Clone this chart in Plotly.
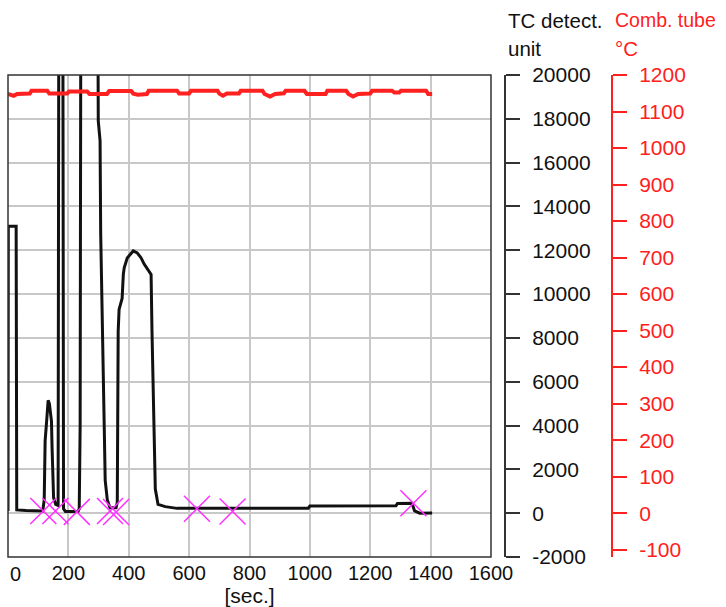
import plotly.graph_objects as go

# TC detector signal (seconds, detector units)
tc_time = [0, 1, 27, 29, 60, 100, 115, 120, 123, 128, 133, 137, 140, 144,
           146, 148, 151, 158, 166, 169, 181, 184, 190, 232, 236, 239, 242,
           296, 299, 305, 307, 311, 316, 319, 322, 329, 338, 358, 362, 363,
           365, 368, 378, 382, 385, 395, 415, 428, 441, 451, 474, 477, 481,
           488, 497, 521, 560, 760, 995, 1000, 1285, 1290, 1338, 1347, 1364,
           1405]
tc_value = [100, 13100, 13100, 150, 120, 100, 100, 600, 3300, 4200, 5150,
            5000, 4700, 4200, 3000, 1500, 700, 400, 350, 30000, 30000, 200,
            80, 80, 200, 4000, 30000, 30000, 17900, 17000, 12800, 9800, 6800,
            3800, 1500, 600, 250, 250, 500, 3800, 8300, 9300, 9800, 10900,
            11200, 11650, 11970, 11880, 11650, 11370, 10900, 8300, 5300, 1100,
            400, 300, 220, 220, 230, 330, 340, 440, 450, 100, 0, 10]

# combustion tube temperature (seconds, deg C)
temp_time = [0, 19, 30, 72, 78, 130, 137, 196, 202, 262, 270, 328, 335, 408,
             415, 430, 460, 466, 560, 567, 600, 606, 694, 700, 712, 725, 765,
             771, 843, 850, 868, 885, 914, 920, 982, 990, 1052, 1058, 1120,
             1128, 1143, 1160, 1200, 1206, 1272, 1280, 1296, 1302, 1385, 1392,
             1405]
temp_value = [1148, 1143, 1148, 1149, 1157, 1157, 1149, 1149, 1155, 1155,
              1148, 1148, 1156, 1156, 1149, 1146, 1148, 1157, 1157, 1149,
              1149, 1157, 1157, 1149, 1143, 1149, 1149, 1157, 1157, 1148,
              1141, 1148, 1150, 1157, 1157, 1148, 1148, 1157, 1157, 1148,
              1141, 1148, 1149, 1157, 1157, 1152, 1152, 1157, 1157, 1148,
              1148]

# integration marks
mark_time = [117, 157, 228, 338, 358, 626, 744, 1343]
mark_value = [100, 100, 60, 100, 50, 200, 80, 450]

x_ticks = [0, 200, 400, 600, 800, 1000, 1200, 1400, 1600]
tc_ticks = [-2000, 0, 2000, 4000, 6000, 8000, 10000, 12000, 14000, 16000,
            18000, 20000]
temp_ticks = [-100, 0, 100, 200, 300, 400, 500, 600, 700, 800, 900, 1000,
              1100, 1200]

FONT = "Liberation Sans, Arial, sans-serif"
RED = "#ff2020"

fig = go.Figure()

fig.add_trace(go.Scatter(
    x=temp_time, y=temp_value, yaxis="y2", mode="lines",
    line=dict(color=RED, width=4), hoverinfo="skip"))

fig.add_trace(go.Scatter(
    x=tc_time, y=tc_value, mode="lines",
    line=dict(color="#111111", width=3), hoverinfo="skip"))

fig.add_trace(go.Scatter(
    x=mark_time, y=mark_value, mode="markers",
    marker=dict(symbol="x-thin", size=26,
                line=dict(color="#ff30ff", width=1.5)),
    hoverinfo="skip"))

# plot frame
fig.add_shape(type="rect", xref="paper", yref="paper",
              x0=0, x1=0.6727, y0=0, y1=1,
              line=dict(color="#333333", width=1.5))

# the "0" label sits right of its gridline in the original, so it is
# written separately and left out of the tick labels
x_text = [""] + [str(v) for v in x_ticks[1:]]

fig.update_layout(
    width=726, height=607,
    margin=dict(l=8, r=0, t=75, b=50, autoexpand=False),
    paper_bgcolor="white", plot_bgcolor="white",
    showlegend=False,
    font=dict(family=FONT, size=21, color="#111111"),
    xaxis=dict(
        domain=[0, 0.6727], range=[0, 1600], automargin=False,
        tickvals=x_ticks, ticktext=x_text,
        showgrid=True, gridcolor="#c8c8c8", gridwidth=1.5,
        zeroline=False, showline=False, ticks="",
        tickfont=dict(size=20), ticklabelstandoff=2,
        title=dict(text="[sec.]", standoff=0, font=dict(size=21)),
    ),
    yaxis=dict(
        range=[-2000, 20000], tickvals=tc_ticks, automargin=False,
        ticktext=[str(v) for v in tc_ticks],
        anchor="free", position=0.6922, side="right",
        showline=True, linecolor="#333333", linewidth=2,
        ticks="outside", ticklen=14, tickwidth=2, tickcolor="#333333",
        ticklabelstandoff=8,
        showgrid=True, gridcolor="#c8c8c8", gridwidth=1.5, zeroline=False,
    ),
    yaxis2=dict(
        range=[-120, 1200], tickvals=temp_ticks, automargin=False,
        ticktext=[str(v) for v in temp_ticks],
        overlaying="y", anchor="free", position=0.8412, side="right",
        showline=True, linecolor=RED, linewidth=2,
        ticks="outside", ticklen=14, tickwidth=2, tickcolor=RED,
        ticklabelstandoff=8, tickfont=dict(color=RED),
        showgrid=False, zeroline=False,
    ),
)

fig.add_annotation(x=0, y=-0.036, xref="x", yref="paper", text="0",
                   showarrow=False, xanchor="left", yanchor="middle",
                   font=dict(size=20, color="#111111"))

# axis headings above the right-hand scales
heads = [
    (0.6936, 1.114, "TC detect.", "#111111", 20.5),
    (0.6936, 1.054, "unit", "#111111", 20.5),
    (0.8426, 1.114, "Comb. tube", RED, 19.5),
    (0.8426, 1.054, "°C", RED, 20.5),
]
for hx, hy, txt, col, size in heads:
    fig.add_annotation(x=hx, y=hy, xref="paper", yref="paper", text=txt,
                       showarrow=False, xanchor="left", yanchor="middle",
                       font=dict(size=size, color=col))

# drop the browser's default body margin so the figure fills the window
fig.write_html(
    "out.html",
    config={"displayModeBar": False},
    post_script="document.body.style.margin='0';"
                "document.body.style.overflow='hidden';")
